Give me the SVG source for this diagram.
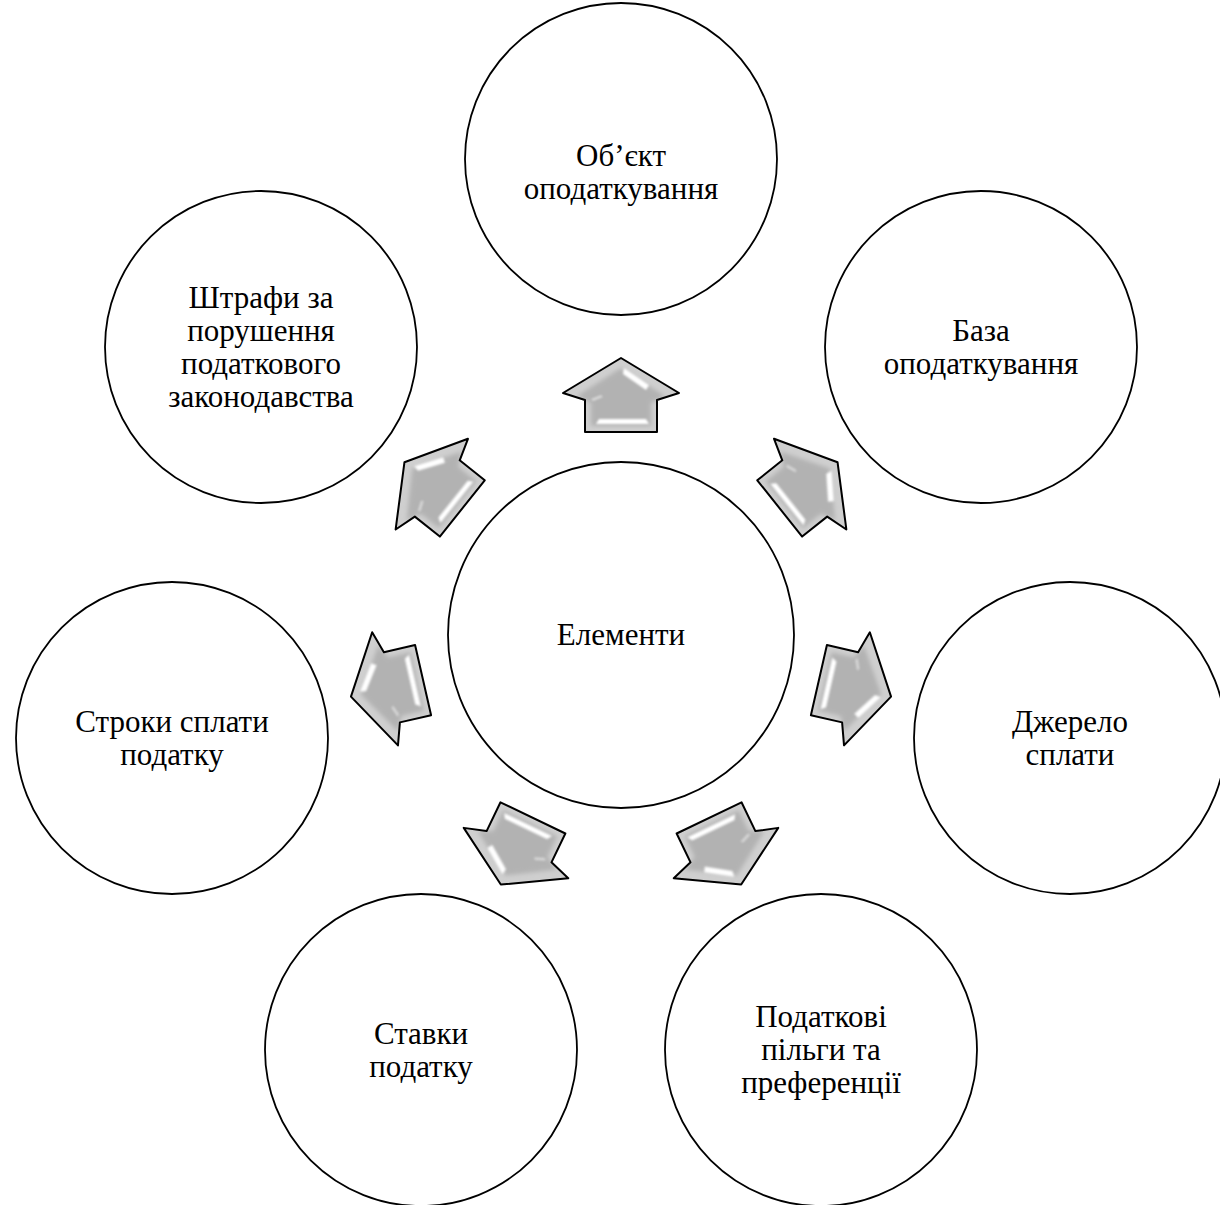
<svg xmlns="http://www.w3.org/2000/svg" width="1220" height="1205" viewBox="0 0 1220 1205">
<style>
.node circle{fill:#fff;stroke:#000;stroke-width:1.8}
.node text{font-family:"Liberation Serif","Times New Roman",serif;font-size:31px;fill:#000;text-anchor:middle}
</style>
<defs>
<filter id="blur2" x="-20%" y="-20%" width="140%" height="140%"><feGaussianBlur stdDeviation="2.2"/></filter>
<filter id="blur1" x="-50%" y="-50%" width="200%" height="200%"><feGaussianBlur stdDeviation="0.8"/></filter>
<clipPath id="arrowClip"><path d="M0,-277 L58,-242 L36,-235 L36,-203 L-36,-203 L-36,-235 L-58,-242 Z"/></clipPath>
<g id="arrow">
<path d="M0,-277 L58,-242 L36,-235 L36,-203 L-36,-203 L-36,-235 L-58,-242 Z" fill="#cfcfcf"/>
<g clip-path="url(#arrowClip)">
<path d="M0,-267 L44,-239 L30,-232 L30,-209 L-30,-209 L-30,-232 L-44,-239 Z" fill="#b2b2b2" filter="url(#blur2)"/>
<path d="M3,-267 L28,-250 L25,-245 L2,-261 Z" fill="#fff" filter="url(#blur1)"/>
<path d="M-22,-216 L25,-216 L28,-211 L-25,-211 Z" fill="#fff" filter="url(#blur1)"/>
<path d="M-30,-236 L-20,-240 L-18,-238 L-28,-234 Z" fill="#fff" opacity="0.5" filter="url(#blur1)"/>
</g>
<path d="M0,-277 L58,-242 L36,-235 L36,-203 L-36,-203 L-36,-235 L-58,-242 Z" fill="none" stroke="#000" stroke-width="2" stroke-linejoin="round"/>
</g>
</defs>
<rect width="1220" height="1205" fill="#fff"/>
<g id="connectors">
<use href="#arrow" transform="translate(621 635) rotate(0)"/>
<use href="#arrow" transform="translate(621 635) rotate(51.4286)"/>
<use href="#arrow" transform="translate(621 635) rotate(102.857)"/>
<use href="#arrow" transform="translate(621 635) rotate(154.286)"/>
<use href="#arrow" transform="translate(621 635) rotate(205.714)"/>
<use href="#arrow" transform="translate(621 635) rotate(257.143)"/>
<use href="#arrow" transform="translate(621 635) rotate(308.571)"/>
</g>
<g id="center" class="node"><circle cx="621" cy="635" r="173"/><text x="621" y="645">Елементи</text></g>
<g id="n1" class="node"><circle cx="621" cy="159" r="156"/><text x="621" y="166">Об’єкт</text><text x="621" y="199">оподаткування</text></g>
<g id="n2" class="node"><circle cx="981" cy="347" r="156"/><text x="981" y="341">База</text><text x="981" y="374">оподаткування</text></g>
<g id="n3" class="node"><circle cx="1070" cy="738" r="156"/><text x="1070" y="732">Джерело</text><text x="1070" y="765">сплати</text></g>
<g id="n4" class="node"><circle cx="821" cy="1050" r="156"/><text x="821" y="1027">Податкові</text><text x="821" y="1060">пільги та</text><text x="821" y="1093">преференції</text></g>
<g id="n5" class="node"><circle cx="421" cy="1050" r="156"/><text x="421" y="1044">Ставки</text><text x="421" y="1077">податку</text></g>
<g id="n6" class="node"><circle cx="172" cy="738" r="156"/><text x="172" y="732">Строки сплати</text><text x="172" y="765">податку</text></g>
<g id="n7" class="node"><circle cx="261" cy="347" r="156"/><text x="261" y="308">Штрафи за</text><text x="261" y="341">порушення</text><text x="261" y="374">податкового</text><text x="261" y="407">законодавства</text></g>
</svg>
